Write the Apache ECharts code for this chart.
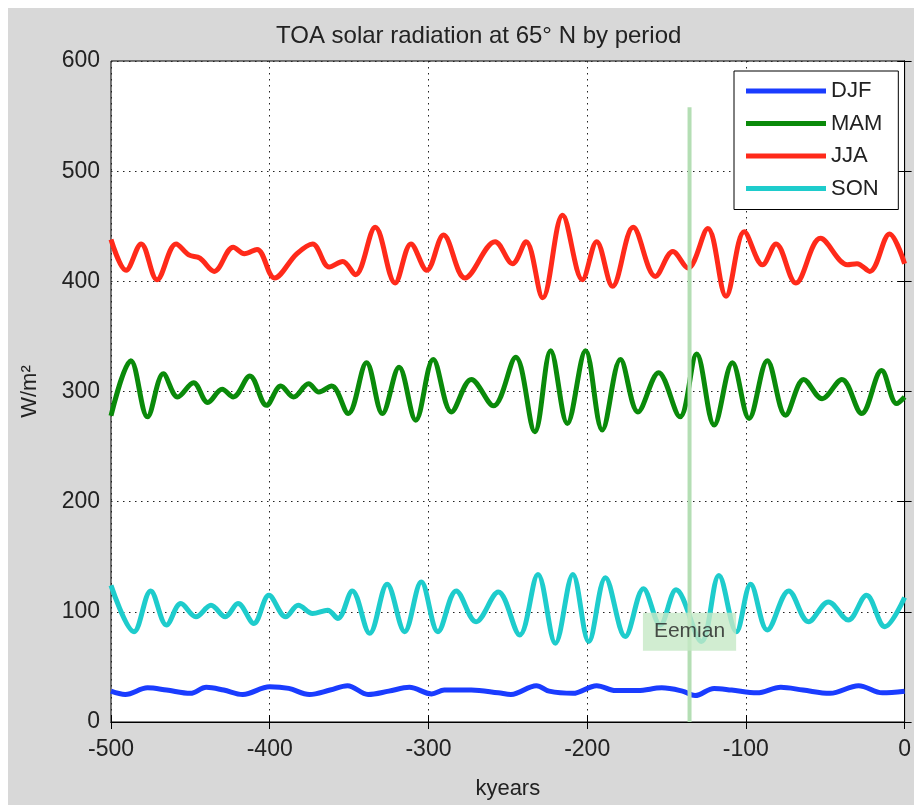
<!DOCTYPE html>
<html>
<head>
<meta charset="utf-8">
<script src="https://cdn.jsdelivr.net/npm/echarts@6/dist/echarts.min.js"></script>
<style>
html,body{margin:0;padding:0;background:#fff;}
#bg{position:absolute;left:8px;top:8px;width:906px;height:797px;background:#d8d8d8;}
#chart{position:absolute;left:0;top:0;width:914px;height:805px;}
</style>
</head>
<body>
<div id="bg"></div>
<div id="chart"></div>
<script>
const titleText = 'TOA solar radiation at 65° N by period';
const xName = 'kyears';
const yName = 'W/m²';
const seriesNames = ['DJF', 'MAM', 'JJA', 'SON'];
const seriesColors = ['#1a3cff', '#0a8a0a', '#ff2a1a', '#1ecccc'];

const djf = [[-500,28],[-491,25],[-477,31],[-465,29],[-450,26],[-440,31.5],[-429,29],[-417,25],[-400,32],[-388,30.5],[-375,25],[-362,29],[-351,33],[-338,25],[-325,28],[-312,31.5],[-298,25.5],[-290,29],[-273,29],[-256,26.5],[-248,25],[-232,33],[-224,28],[-209,26],[-194,33],[-182,28.5],[-168,28.5],[-153,31],[-140,28],[-132,24],[-120,30.5],[-109,29],[-93,26.5],[-78,31.5],[-64,29],[-47,26],[-29,33],[-14,26.5],[0,28]];

const mam = [[-500,278],[-487.5,328],[-477,277],[-467,316],[-458,295],[-448,308],[-439,290],[-430,302],[-423,295],[-412.5,314],[-402,287.5],[-393,305],[-385,295],[-375.5,307],[-369,299.5],[-361,305],[-350.5,280],[-339,326],[-329,280],[-318.5,322],[-308,274],[-297,329],[-285.5,281.5],[-273,311],[-259,287],[-245,331],[-233,263.5],[-223,337],[-212.5,271],[-201,337],[-190.5,265],[-179,329],[-168,281.5],[-155,317],[-141.5,277],[-131,334],[-120,269.5],[-108.5,326],[-98,275.5],[-86.5,328],[-75,278.5],[-63.5,311],[-52,293.5],[-39.5,311],[-27,280],[-14.5,319],[-5,289],[0,295]];

const jja = [[-500,438],[-490.5,410],[-481,434],[-471,401.5],[-459,434],[-451,424],[-444,421],[-435,409],[-423,431],[-416,425],[-408,429],[-397,403],[-383,425],[-373,434],[-362.5,413],[-354,418],[-346,406],[-333.5,449],[-321,398.5],[-311,434],[-301,410],[-290.5,442],[-277,403],[-258,436],[-247,416],[-238.5,436],[-228,385],[-215.5,460],[-203,401.5],[-194,436],[-184,395.5],[-171,449],[-157,404.5],[-146,427],[-136.5,412],[-124,448],[-112.5,386.5],[-101,445],[-89.5,415],[-81,434],[-68.5,398.5],[-53,439],[-36,415],[-30,416],[-22,409],[-9.5,443],[0,416]];

const son = [[-500,124],[-485.5,82],[-475,119],[-465,88],[-456,107.5],[-446.5,95.5],[-437,106],[-428,95.5],[-420,107.5],[-410,89.5],[-400.5,115],[-390,95.5],[-382,106],[-373,98.5],[-363.5,101.5],[-357,94],[-348,119],[-337,80.5],[-326,125],[-315,82],[-304.5,127],[-294,82],[-282.5,119],[-270,91],[-256,118],[-242.5,79],[-231,134],[-220,71.5],[-209,134],[-199,73],[-188.5,131],[-176,77.5],[-164.5,121],[-154,88],[-144,120],[-128,73],[-117,133],[-106,82],[-97,125],[-86.5,83.5],[-73,119],[-60.5,91],[-48,109],[-35.5,92.5],[-24,115],[-12.5,86.5],[0,113]];

const eemianLine = [[-135.5,0],[-135.5,558]];
const eemianLabel = [[-135.5,82]];
const eemianText = 'Eemian';

const FONT = "'Liberation Sans', Arial, Helvetica, sans-serif";
const chart = echarts.init(document.getElementById('chart'));
const dataSets = [djf, mam, jja, son];

const mainSeries = seriesNames.map((n, i) => ({
  name: n,
  type: 'line',
  data: dataSets[i],
  smooth: 0.35,
  symbol: 'none',
  lineStyle: { width: 5, color: seriesColors[i] },
  itemStyle: { color: seriesColors[i] },
  z: 2
}));

const tickCommon = { show: true, inside: true, length: 7, lineStyle: { color: '#000', width: 1 } };

chart.setOption({
  animation: false,
  backgroundColor: 'transparent',
  title: {
    text: titleText,
    left: 271, top: 19,
    textStyle: { fontFamily: FONT, fontSize: 24, fontWeight: 'normal', color: '#222' }
  },
  grid: { left: 111, right: 7, top: 61, bottom: 74, show: true, backgroundColor: '#fff', borderColor: '#000', borderWidth: 1 },
  legend: {
    data: seriesNames,
    orient: 'vertical',
    left: 734, top: 71,
    padding: [9, 16, 10, 12],
    itemGap: 10.5,
    itemWidth: 80, itemHeight: 5,
    icon: 'rect',
    backgroundColor: '#fff',
    borderColor: '#000', borderWidth: 1,
    textStyle: { fontFamily: FONT, fontSize: 22, color: '#222' }
  },
  xAxis: [{
    type: 'value', min: -500, max: 0, interval: 100,
    name: xName, nameLocation: 'middle', nameGap: 56,
    nameTextStyle: { fontFamily: FONT, fontSize: 22, color: '#222' },
    axisLine: { show: true, lineStyle: { color: '#000' } },
    axisTick: tickCommon,
    axisLabel: { fontFamily: FONT, fontSize: 23, color: '#222', margin: 16 },
    splitLine: { show: true, lineStyle: { color: '#222', type: [1.5, 4.5], width: 1 } }
  }, {
    type: 'value', position: 'top', min: -500, max: 0, interval: 100,
    axisLine: { show: true, lineStyle: { color: '#000' } },
    axisTick: tickCommon, axisLabel: { show: false }, splitLine: { show: false }
  }],
  yAxis: [{
    type: 'value', min: 0, max: 600, interval: 100,
    name: yName, nameLocation: 'middle', nameGap: 70,
    nameTextStyle: { fontFamily: FONT, fontSize: 22, color: '#222' },
    axisLine: { show: true, lineStyle: { color: '#000' } },
    axisTick: tickCommon,
    axisLabel: { fontFamily: FONT, fontSize: 23, color: '#222', margin: 11 },
    splitLine: { show: true, lineStyle: { color: '#222', type: [1.5, 4.5], width: 1 } }
  }, {
    type: 'value', position: 'right', min: 0, max: 600, interval: 100,
    axisLine: { show: true, lineStyle: { color: '#000' } },
    axisTick: tickCommon, axisLabel: { show: false }, splitLine: { show: false }
  }],
  series: mainSeries.concat([{
    name: 'Eemian line',
    type: 'line',
    data: eemianLine,
    symbol: 'none',
    lineStyle: { width: 4, color: '#b4deb4' },
    z: 3, silent: true
  }, {
    name: 'Eemian label',
    type: 'scatter',
    data: eemianLabel,
    symbolSize: 1,
    itemStyle: { color: 'rgba(0,0,0,0)' },
    label: {
      show: true, position: 'inside', formatter: eemianText,
      fontFamily: FONT, fontSize: 21, color: '#222',
      backgroundColor: '#c6e8c6', padding: [9, 11, 8, 11]
    },
    z: 4, silent: true
  }])
});
</script>
</body>
</html>
